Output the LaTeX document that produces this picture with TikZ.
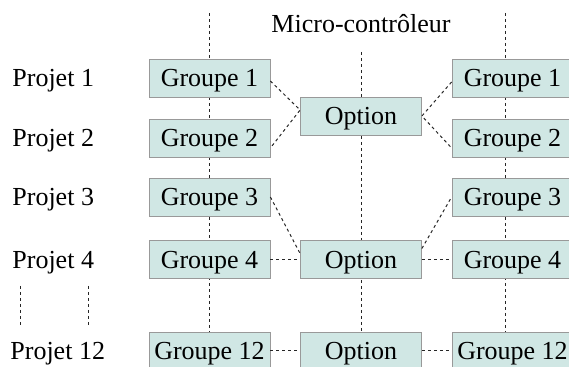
\documentclass[tikz,border=0pt]{standalone}
\usepackage{fontspec}
\setmainfont{Liberation Serif}
\usetikzlibrary{positioning}
\definecolor{vertclair}{RGB}{208,231,228}
\begin{document}
\begin{tikzpicture}[x=0.5pt,y=-0.5pt,font=\fontsize{13}{15}\selectfont,
  texte/.style={text height=12pt,text depth=3pt},
  boite/.style={texte,draw=gray!80,fill=vertclair,minimum width=60.5pt,minimum height=19pt,inner sep=0pt},
  projet/.style={texte,anchor=west,inner sep=0pt},
  tiret/.style={dash pattern=on 1.5pt off 1.5pt,black!85,line width=0.5pt}]
\useasboundingbox (0,0) rectangle (569,367);
% axes des colonnes
\path (209,13) coordinate (hautG) (209,367) coordinate (basG)
      (361,52) coordinate (hautM) (361,332) coordinate (basM)
      (505,13) coordinate (hautD) (505,367) coordinate (basD)
      (20,286) coordinate (p1) (20,328) coordinate (p2)
      (88,286) coordinate (p3) (88,328) coordinate (p4);
\draw[tiret] (hautG)--(basG) (hautM)--(basM) (hautD)--(basD) (p1)--(p2) (p3)--(p4);
\node[texte] at (361,24) (micro) {Micro-contr\^oleur};
% projets
\node[projet] at (12,78) (pr1) {Projet 1};
\node[projet] at (12,138) (pr2) {Projet 2};
\node[projet] at (12,197) (pr3) {Projet 3};
\node[projet] at (12,259.5) (pr4) {Projet 4};
\node[projet] at (10,351) (pr12) {Projet 12};
% groupes gauche
\node[boite] at (209.5,78) (g1) {Groupe 1};
\node[boite] at (209.5,138) (g2) {Groupe 2};
\node[boite] at (209.5,197) (g3) {Groupe 3};
\node[boite] at (209.5,259.5) (g4) {Groupe 4};
\node[boite] at (209.5,351) (g12) {Groupe 12};
% options
\node[boite] at (361,116) (opt1) {Option};
\node[boite] at (361,259.5) (opt2) {Option};
\node[boite] at (361,351) (opt3) {Option};
% groupes droite
\node[boite] at (512.5,78) (d1) {Groupe 1};
\node[boite] at (512.5,138) (d2) {Groupe 2};
\node[boite] at (512.5,197) (d3) {Groupe 3};
\node[boite] at (512.5,259.5) (d4) {Groupe 4};
\node[boite] at (512.5,351) (d12) {Groupe 12};
% liaisons
\draw[tiret] ([yshift=-1.5pt]g1.east)--([yshift=3pt]opt1.west)--([yshift=-5pt]g2.east);
\draw[tiret] ([yshift=-2pt]d1.west)--(opt1.east)--([yshift=-5pt]d2.west);
\draw[tiret] (g3.east)--([yshift=3pt]opt2.west);
\draw[tiret] (g4.east)--(opt2.west);
\draw[tiret] ([yshift=5.5pt]opt2.east)--(d3.west);
\draw[tiret] (opt2.east)--(d4.west);
\draw[tiret] (g12.east)--(opt3.west);
\draw[tiret] (opt3.east)--(d12.west);
\end{tikzpicture}
\end{document}
